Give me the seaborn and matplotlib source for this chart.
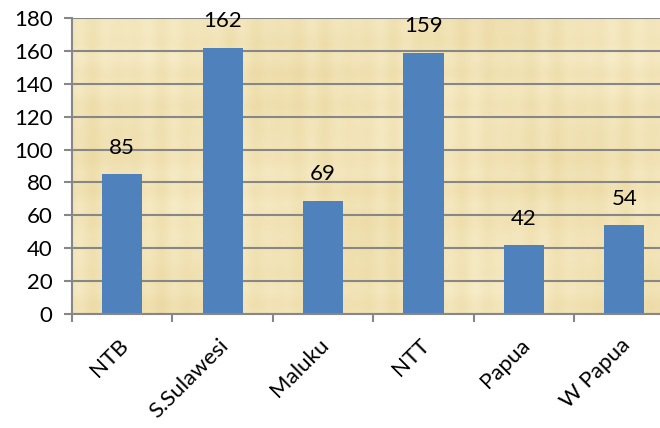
import numpy as np
import pandas as pd
import matplotlib
matplotlib.use("Agg")
import matplotlib.pyplot as plt
import matplotlib.transforms as mtransforms
import seaborn as sns

regions = ["NTB", "S.Sulawesi", "Maluku", "NTT", "Papua", "W Papua"]
counts = [85, 162, 69, 159, 42, 54]
y_ticks = [0, 20, 40, 60, 80, 100, 120, 140, 160, 180]

df = pd.DataFrame({"region": regions, "count": counts})

sns.set_theme(style="white")
plt.rcParams["font.family"] = ["Lato", "DejaVu Sans"]

W, H = 660, 428
fig = plt.figure(figsize=(W / 100, H / 100), dpi=100)
ax = fig.add_axes([72 / W, 114 / H, 602.5 / W, 296 / H])

# papyrus-like backdrop: warm base with faint fibre streaks
ny, nx = 296, 603
yy, xx = np.mgrid[0:ny, 0:nx]
tex = (0.4 * np.sin(xx * 0.23) * np.sin(xx * 0.041 + 1.0)
       + 0.3 * np.sin(yy * 0.19 + 0.5) * np.sin(yy * 0.027)
       + 0.5 * np.sin(xx * 0.019 + yy * 0.011) * np.cos(yy * 0.023 - xx * 0.007))
tex = (tex - tex.min()) / (tex.max() - tex.min())
base = np.array([236, 218, 164]) / 255
light = np.array([247, 236, 200]) / 255
img = base[None, None, :] * (1 - tex[..., None]) + light[None, None, :] * tex[..., None]
ax.imshow(img, extent=(-0.5, 5.5, 0, 180), aspect="auto", zorder=0, interpolation="bilinear")

sns.barplot(data=df, x="region", y="count", color="#4F81BD", saturation=1,
            width=0.4, linewidth=0, ax=ax, zorder=3)

ax.set_xlim(-0.5, 5.5)
ax.set_ylim(0, 180)
ax.set_yticks(y_ticks)
ax.set_xlabel("")
ax.set_ylabel("")

for y in y_ticks:
    ax.axhline(y, color="#878787", lw=1.5, zorder=1)

for i, v in enumerate(counts):
    ax.annotate(str(v), (i, v), xytext=(0, 19), textcoords="offset points",
                ha="center", va="center", fontsize=16, color="black", zorder=4)

for side in ["top", "right"]:
    ax.spines[side].set_visible(False)
for side in ["left", "bottom"]:
    ax.spines[side].set_color("#878787")
    ax.spines[side].set_linewidth(1.5)
    ax.spines[side].set_zorder(5)

ax.tick_params(axis="y", length=6, width=1.5, color="#878787", left=True,
               labelsize=16, pad=8, labelcolor="black")
ax.set_xticks(np.arange(len(regions)))
ax.set_xticks(np.arange(-0.5, len(regions), 1.0), minor=True)
ax.tick_params(axis="x", which="major", length=0, labelsize=16, pad=15,
               labelcolor="black")
ax.tick_params(axis="x", which="minor", length=6, width=1.5, color="#878787",
               bottom=True)
ax.set_xticklabels(regions, rotation=45, ha="right", rotation_mode="anchor")
shift = mtransforms.ScaledTranslation(-4 / 100, 0, fig.dpi_scale_trans)
for lbl in ax.get_xticklabels():
    lbl.set_transform(lbl.get_transform() + shift)

fig.savefig("out.png", dpi=100, facecolor="white")
